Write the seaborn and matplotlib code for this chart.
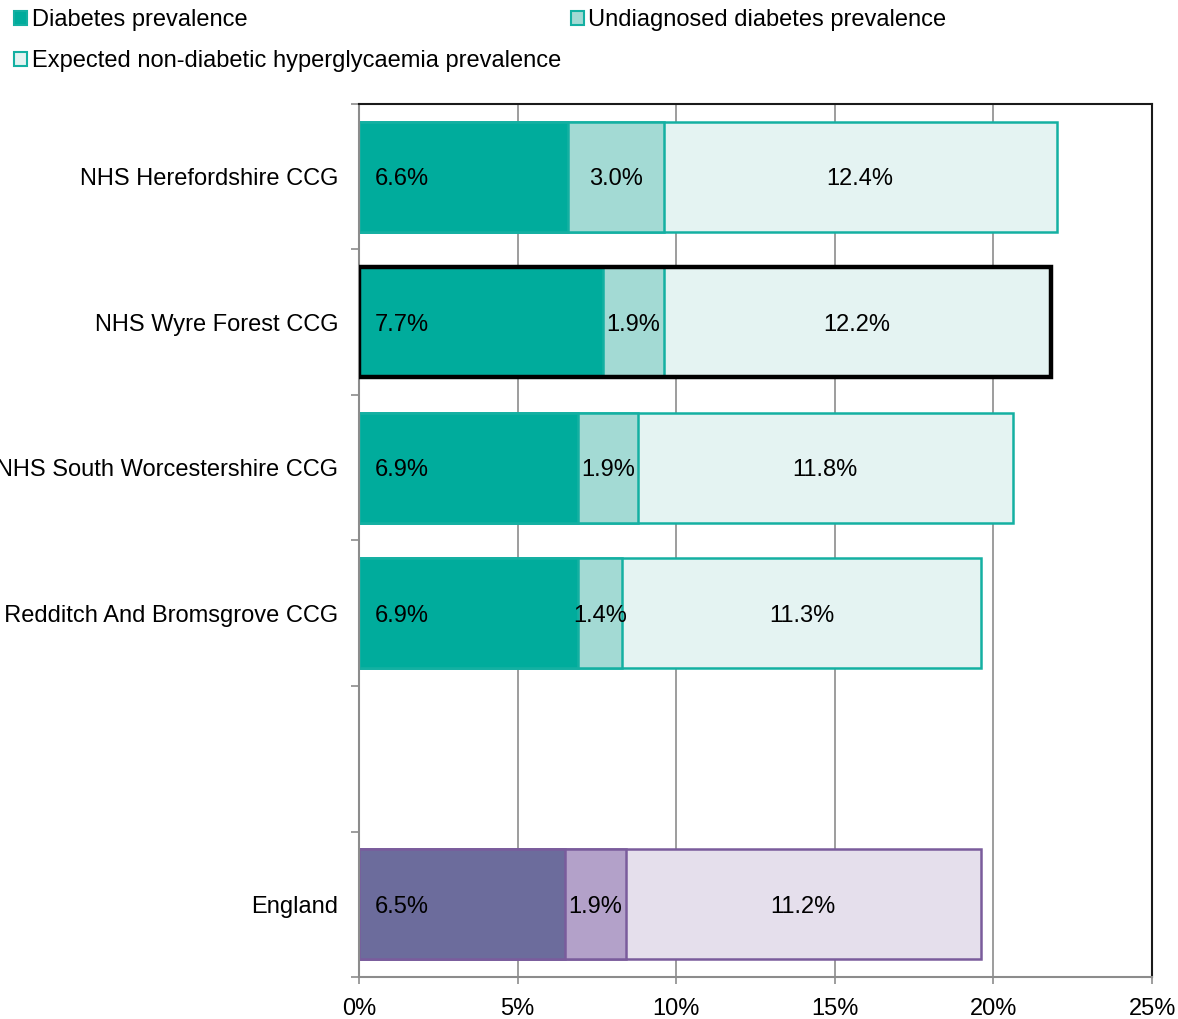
""" Diabetes prevalence stacked bar chart """

import numpy as np
import pandas as pd
import matplotlib
matplotlib.use("Agg")
import matplotlib.pyplot as plt
from matplotlib.patches import Patch, Rectangle
from matplotlib.ticker import FixedLocator, PercentFormatter
import seaborn as sns

# Data (percent)
areas = ["NHS Herefordshire CCG", "NHS Wyre Forest CCG", "NHS South Worcestershire CCG",
         "NHS Redditch And Bromsgrove CCG", "England"]
diagnosed = [6.6, 7.7, 6.9, 6.9, 6.5]
undiagnosed = [3.0, 1.9, 1.9, 1.4, 1.9]
ndh = [12.4, 12.2, 11.8, 11.3, 11.2]
series_names = ["Diabetes prevalence", "Undiagnosed diabetes prevalence",
                "Expected non-diabetic hyperglycaemia prevalence"]
highlight = "NHS Wyre Forest CCG"
x_ticks = [0, 5, 10, 15, 20, 25]

# Category order incl. an empty gap slot before England
order = areas[:4] + [" "] + areas[4:]

df = pd.DataFrame({"area": areas, "diag": diagnosed, "undiag": undiagnosed, "ndh": ndh})
df["c1"] = df["diag"]
df["c2"] = df["diag"] + df["undiag"]
df["c3"] = df["c2"] + df["ndh"]

# Colours: teal for CCGs, purple for England
teal = ["#00ac9c", "#a3dad4", "#e4f3f2"]
teal_edge = "#14b0a2"
purple = ["#6c6c9c", "#b3a1c9", "#e5dfec"]
purple_edge = "#7a5c9c"

def layer_palette(i):
    return {a: (purple[i] if a == "England" else teal[i]) for a in areas}

sns.set_style("white")
plt.rcParams["font.family"] = ["Liberation Sans", "DejaVu Sans"]
plt.rcParams["text.color"] = "black"
plt.rcParams["xtick.labelcolor"] = "black"
plt.rcParams["ytick.labelcolor"] = "black"
fs = 17

fig = plt.figure(figsize=(11.78, 10.19), dpi=100)
ax = fig.add_axes([0.3048, 0.0412, 0.6732, 0.8568])

bar_h = 0.755
centres = {}
# Draw from the cumulative total inwards so each segment sits on top
for i, col in [(2, "c3"), (1, "c2"), (0, "c1")]:
    n = len(ax.patches)
    sns.barplot(data=df, x=col, y="area", hue="area", order=order, hue_order=areas,
                palette=layer_palette(i), saturation=1, orient="h", width=bar_h,
                dodge=False, legend=False, ax=ax, linewidth=0)
    for p in ax.patches[n:]:
        if p.get_width() == 0 or np.isnan(p.get_width()):
            continue
        yc = p.get_y() + p.get_height() / 2
        name = order[int(round(yc))]
        p.set_edgecolor(purple_edge if name == "England" else teal_edge)
        p.set_linewidth(1.8)
        if i == 2:
            centres[name] = (p.get_y(), p.get_height(), p.get_width())

# Thick black outline around the highlighted area
y0, h, w = centres[highlight]
ax.add_patch(Rectangle((0, y0), w, h, fill=False, edgecolor="black", linewidth=3.2, zorder=5))

# Value labels
for _, r in df.iterrows():
    yc = order.index(r["area"])
    ax.text(0.5, yc, f"{r['diag']:.1f}%", ha="left", va="center_baseline", fontsize=fs, zorder=6)
    ax.text(r["c1"] + r["undiag"] / 2, yc, f"{r['undiag']:.1f}%", ha="center",
            va="center_baseline", fontsize=fs, zorder=6)
    ax.text(r["c2"] + r["ndh"] / 2, yc, f"{r['ndh']:.1f}%", ha="center",
            va="center_baseline", fontsize=fs, zorder=6)

# Axes styling
ax.set_xlim(0, 25)
ax.set_ylim(len(order) - 0.5, -0.5)
ax.xaxis.set_major_locator(FixedLocator(x_ticks))
ax.xaxis.set_major_formatter(PercentFormatter(decimals=0))
ax.set_xlabel("")
ax.set_ylabel("")
ax.grid(axis="x", color="#8c8c8c", linewidth=1.2)
ax.set_axisbelow(True)

ax.set_yticks(range(len(order)))
ax.set_yticklabels(order)
ax.yaxis.set_minor_locator(FixedLocator(np.arange(-0.5, len(order), 1.0)))
ax.tick_params(axis="y", which="major", length=0, pad=15, labelsize=fs)
ax.tick_params(axis="y", which="minor", length=6, color="#8c8c8c", width=1.2, direction="out", left=True)
ax.tick_params(axis="x", length=5, color="#8c8c8c", width=1.2, direction="out",
               bottom=True, labelsize=fs, pad=10)

for s in ["left", "bottom"]:
    ax.spines[s].set_color("#8c8c8c")
    ax.spines[s].set_linewidth(1.5)
for s in ["top", "right"]:
    ax.spines[s].set_visible(True)
    ax.spines[s].set_color("#1a1a1a")
    ax.spines[s].set_linewidth(1.5)

# Legend (row-wise order across two columns)
handles = [Patch(facecolor=teal[0], edgecolor=teal_edge, linewidth=1.5),
           Patch(facecolor=teal[2], edgecolor=teal_edge, linewidth=1.5),
           Patch(facecolor=teal[1], edgecolor=teal_edge, linewidth=1.5)]
labels = [series_names[0], series_names[2], series_names[1]]
fig.legend(handles, labels, ncol=2, loc="upper left", bbox_to_anchor=(0.004, 1.0),
           frameon=False, fontsize=fs, handlelength=0.55, handleheight=0.55,
           handletextpad=0.2, columnspacing=0.4, labelspacing=0.8, borderaxespad=0)

fig.savefig("out.png", dpi=100)
